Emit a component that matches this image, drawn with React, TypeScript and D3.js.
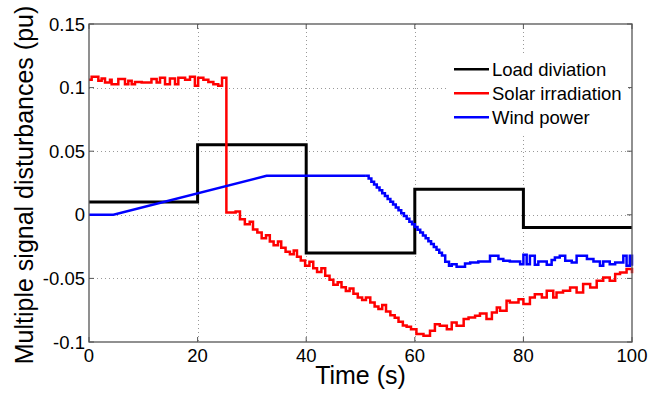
import React from "react";
import * as d3 from "d3";

// Time axis ticks (s) and disturbance axis ticks (pu)
const xTicks = [0, 20, 40, 60, 80, 100];
const yTicks = [-0.1, -0.05, 0, 0.05, 0.1, 0.15];
const yTickLabels = ["-0.1", "-0.05", "0", "0.05", "0.1", "0.15"];

// Load deviation: piecewise constant steps [time, value]
const loadDeviation: [number, number][] = [
  [0, 0.01], [20, 0.055], [40, -0.03], [60, 0.02], [80, -0.01], [100, -0.01],
];

// Solar irradiation: sampled/held signal [time, value]
const solarIrradiation: [number, number][] = [
  [0, 0.1061], [0.49, 0.1085], [1.72, 0.1053], [2.33, 0.1072], [2.95, 0.104],
  [3.87, 0.1061], [4.17, 0.1027], [5.4, 0.1067], [6.63, 0.1027], [7.24, 0.1053],
  [7.86, 0.1027], [8.47, 0.1045], [9.7, 0.104], [11.5, 0.1067], [12.46, 0.104],
  [13.08, 0.1077], [14.0, 0.1027], [14.9, 0.1072], [15.84, 0.1027], [16.45, 0.1077],
  [17.7, 0.1061], [18.6, 0.1085], [19.5, 0.1014], [20.1, 0.1077], [21.06, 0.1061],
  [21.98, 0.1045], [22.9, 0.1027], [23.8, 0.1014], [24.5, 0.1077],
  [25.3, 0.0018], [27.0, 0.0025], [27.8, -0.0035], [28.7, -0.0075], [29.6, -0.0055],
  [30.2, -0.0115], [31.0, -0.014], [31.8, -0.0185], [32.6, -0.016], [33.3, -0.021],
  [34.0, -0.024], [34.8, -0.021], [35.4, -0.026], [36.2, -0.029], [37.0, -0.031],
  [37.7, -0.028], [38.3, -0.033], [39.0, -0.036], [39.8, -0.04], [40.6, -0.037],
  [41.3, -0.042], [42.0, -0.045], [42.8, -0.042], [43.5, -0.048], [44.3, -0.051],
  [45.0, -0.055], [45.8, -0.053], [46.5, -0.057], [47.3, -0.06], [48.0, -0.058],
  [48.7, -0.062], [49.5, -0.065], [50.3, -0.067], [51.0, -0.065], [51.8, -0.069],
  [52.6, -0.072], [53.3, -0.074], [54.0, -0.071], [54.7, -0.076], [55.5, -0.079],
  [56.3, -0.081], [57.0, -0.084], [57.8, -0.087], [58.5, -0.088], [59.3, -0.09],
  [60.3, -0.0938], [61.6, -0.0951], [62.8, -0.0912], [63.7, -0.086], [64.6, -0.0873],
  [65.9, -0.0899], [66.8, -0.0846], [67.7, -0.0873], [69.0, -0.082], [69.9, -0.0807],
  [71.1, -0.0794], [72.0, -0.0776], [73.2, -0.082], [74.2, -0.0768], [75.1, -0.0728],
  [75.7, -0.0755], [76.9, -0.0676], [77.5, -0.0689], [79.1, -0.0663], [80.0, -0.0702],
  [81.2, -0.065], [82.1, -0.0624], [83.4, -0.065], [84.3, -0.0597], [85.5, -0.065],
  [86.1, -0.0611], [87.3, -0.0597], [88.6, -0.0571], [89.8, -0.0611], [91.0, -0.0545],
  [92.3, -0.0571], [93.5, -0.0519], [94.7, -0.0493], [95.9, -0.0519], [96.9, -0.0466],
  [97.8, -0.0453], [99.0, -0.0427], [100, -0.046],
];

// Wind power: smooth ramp-up segment
const windRamp: [number, number][] = [
  [0, 0], [4.5, 0], [32.7, 0.0307], [51, 0.0307],
];

// Wind power: sampled/held segment after the ramp-up
const windSteps: [number, number][] = [
  [51, 0.0307], [51.5, 0.0285], [52, 0.026], [52.5, 0.0238], [53, 0.0215],
  [53.5, 0.0193], [54, 0.017], [54.5, 0.0148], [55, 0.0125], [55.5, 0.0103],
  [56, 0.008], [56.5, 0.0058], [57, 0.0035], [57.5, 0.0013], [58, -0.001],
  [58.5, -0.0032], [59, -0.0055], [59.5, -0.0075], [60, -0.0095], [60.5, -0.0118],
  [61, -0.014], [61.5, -0.0163], [62, -0.0185], [62.5, -0.0208], [63, -0.023],
  [63.5, -0.0253], [64, -0.0275], [64.5, -0.0298], [65, -0.032], [65.6, -0.037],
  [66.3, -0.0401], [66.8, -0.0388], [67.7, -0.0409], [69.25, -0.0383], [70.2, -0.0375],
  [71.7, -0.0367], [73.85, -0.0322], [75.4, -0.0348], [76.3, -0.0362], [77.5, -0.0367],
  [79.4, -0.0388], [80.0, -0.0314], [80.6, -0.0388], [81.2, -0.0322], [82.1, -0.0393],
  [82.75, -0.0367], [84.3, -0.0393], [85.2, -0.0356], [85.8, -0.0335], [86.7, -0.0322],
  [87.7, -0.0362], [88.9, -0.0375], [89.8, -0.0322], [91.7, -0.0348], [92.9, -0.0367],
  [94.1, -0.0401], [94.7, -0.0367], [95.9, -0.0388], [96.9, -0.0375], [98.4, -0.0322],
  [99.0, -0.0401], [99.6, -0.0322], [100, -0.04],
];

const legendItems = [
  { label: "Load diviation", color: "#000000" },
  { label: "Solar irradiation", color: "#ff0000" },
  { label: "Wind power", color: "#0000ff" },
];

const W = 653;
const H = 403;
const margin = { left: 89, right: 21, top: 24, bottom: 61 };
const FONT = "'Liberation Sans', Arial, Helvetica, sans-serif";

export default function App() {
  const x = d3.scaleLinear().domain([0, 100]).range([margin.left, W - margin.right]);
  const y = d3.scaleLinear().domain([-0.1, 0.15]).range([H - margin.bottom, margin.top]);

  const stepLine = d3
    .line<[number, number]>()
    .x((d) => x(d[0]))
    .y((d) => y(d[1]))
    .curve(d3.curveStepAfter);
  const straightLine = d3
    .line<[number, number]>()
    .x((d) => x(d[0]))
    .y((d) => y(d[1]));

  const [x0, x1] = x.range();
  const [y0, y1] = y.range();
  const tickLen = 5;
  const frame = "#555";
  const gridColor = "#999";

  return (
    <svg
      width={W}
      height={H}
      style={{ position: "absolute", left: 0, top: 0, background: "#fff" }}
      fontFamily={FONT}
    >
      <rect x={0} y={0} width={W} height={H} fill="#fff" />

      {/* grid */}
      <g stroke={gridColor} strokeWidth={1} strokeDasharray="1,3" fill="none">
        {xTicks.slice(1, -1).map((t) => (
          <line key={"gx" + t} x1={Math.round(x(t)) + 0.5} x2={Math.round(x(t)) + 0.5} y1={y1} y2={y0} />
        ))}
        {yTicks.slice(1, -1).map((t) => (
          <line key={"gy" + t} x1={x0} x2={x1} y1={Math.round(y(t)) + 0.5} y2={Math.round(y(t)) + 0.5} />
        ))}
      </g>

      {/* ticks on all four sides */}
      <g stroke={frame} strokeWidth={1}>
        {xTicks.map((t) => (
          <g key={"tx" + t}>
            <line x1={x(t)} x2={x(t)} y1={y0} y2={y0 - tickLen} />
            <line x1={x(t)} x2={x(t)} y1={y1} y2={y1 + tickLen} />
          </g>
        ))}
        {yTicks.map((t) => (
          <g key={"ty" + t}>
            <line x1={x0} x2={x0 + tickLen} y1={y(t)} y2={y(t)} />
            <line x1={x1} x2={x1 - tickLen} y1={y(t)} y2={y(t)} />
          </g>
        ))}
      </g>

      {/* series */}
      <path d={stepLine(loadDeviation) || ""} fill="none" stroke="#000" strokeWidth={3} />
      <path d={stepLine(solarIrradiation) || ""} fill="none" stroke="#ff0000" strokeWidth={2.5} />
      <path d={straightLine(windRamp) || ""} fill="none" stroke="#0000ff" strokeWidth={2.5} />
      <path d={stepLine(windSteps) || ""} fill="none" stroke="#0000ff" strokeWidth={2.5} />

      {/* axes frame */}
      <rect x={x0} y={y1} width={x1 - x0} height={y0 - y1} fill="none" stroke={frame} strokeWidth={1.3} />

      {/* tick labels */}
      <g fontSize={18.5} fill="#000">
        {xTicks.map((t) => (
          <text key={"lx" + t} x={x(t)} y={y0 + 20} textAnchor="middle">
            {t}
          </text>
        ))}
        {yTicks.map((t, i) => (
          <text key={"ly" + t} x={x0 - 4} y={y(t) + 6.5} textAnchor="end">
            {yTickLabels[i]}
          </text>
        ))}
      </g>

      {/* axis titles */}
      <text x={(x0 + x1) / 2} y={384} textAnchor="middle" fontSize={25} fill="#000">
        Time (s)
      </text>
      <text
        transform={`translate(33, ${(y0 + y1) / 2 + 2}) rotate(-90)`}
        textAnchor="middle"
        fontSize={25}
        fill="#000"
      >
        Multiple signal disturbances (pu)
      </text>

      {/* legend */}
      <g>
        <rect x={446} y={53} width={182} height={80} fill="#fff" />
        {legendItems.map((item, i) => (
          <g key={item.label} transform={`translate(0, ${69.3 + i * 24})`}>
            <line x1={454} x2={489} y1={0} y2={0} stroke={item.color} strokeWidth={2.5} />
            <text x={492} y={6.7} fontSize={18.5} fill="#000">
              {item.label}
            </text>
          </g>
        ))}
      </g>
    </svg>
  );
}
